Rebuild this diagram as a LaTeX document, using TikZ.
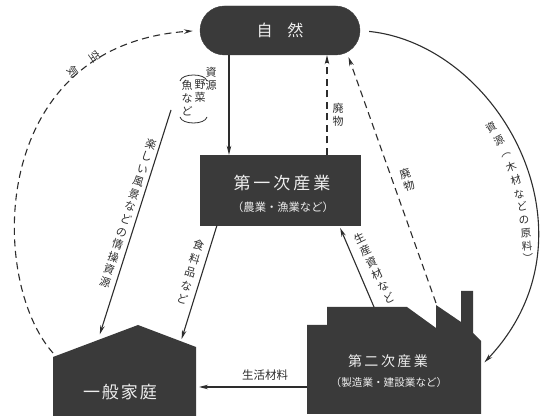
\documentclass[tikz,border=0pt]{standalone}
\usepackage{fontspec}
\setmainfont{Noto Sans CJK JP}
\usetikzlibrary{arrows.meta}
\definecolor{ink}{RGB}{45,45,45}
\definecolor{blk}{RGB}{58,58,58}
\definecolor{wt}{RGB}{238,238,238}
\begin{document}
\begin{tikzpicture}[x=1pt,y=-1pt,
  conn/.style={draw=ink, line width=1.1pt, -{Stealth[length=9pt,width=4.5pt]}},
  dconn/.style={conn, dash pattern=on 7pt off 4.5pt},
  lab/.style={text=ink, inner sep=0pt, align=center, font=\fontsize{11}{13}\selectfont},
  darkshape/.style={fill=blk, draw=blk},
  wtext/.style={text=wt, inner sep=0pt},
  paren/.style={draw=ink, line width=0.8pt}]
\fill[white] (0,0) rectangle (544,419);
\useasboundingbox (0,0) rectangle (544,419);

% nature
\node[darkshape, rounded corners=24.5pt, minimum width=160pt, minimum height=49pt, inner sep=0pt] (nature) at (280,30.5) {};
\node[wtext, font=\fontsize{16}{16}\selectfont] (nature-t) at (nature) {自\kern15pt 然};

% primary industry
\node[darkshape, minimum width=160pt, minimum height=70pt, inner sep=0pt] (primary) at (280,190) {};
\node[wtext, font=\fontsize{17}{17}\selectfont] (primary-t) at (282,183) {第\kern3pt 一\kern3pt 次\kern3pt 産\kern3pt 業};
\node[wtext, font=\fontsize{11.3}{12}\selectfont] (primary-s) at (283,207) {（農業・漁業など）};

% household (house shape)
\fill[blk] (53,416) -- (53,357) -- (138,325) -- (196,347) -- (196,416) -- cycle;
\coordinate (house-l) at (53,353);
\coordinate (house-roofl) at (98,340);
\coordinate (house-roofr) at (181,341);
\coordinate (house-e) at (196,387);
\node[wtext, font=\fontsize{17}{17}\selectfont] (home) at (120,392) {一\kern2pt 般\kern2pt 家\kern2pt 庭};

% secondary industry (factory shape)
\fill[blk] (307,414) -- (307,325) -- (327,325) -- (327,307) -- (407,307) -- (436,328) -- (436,305) -- (461,322) -- (461,291) -- (473,291) -- (473,333) -- (481,341) -- (481,414) -- cycle;
\coordinate (fac-w) at (307,387);
\coordinate (fac-t) at (374,307);
\coordinate (fac-r) at (436,303);
\coordinate (fac-e) at (481,366);
\node[wtext, font=\fontsize{14}{14}\selectfont] (second-t) at (388,361) {第\kern2.5pt 二\kern2.5pt 次\kern2.5pt 産\kern2.5pt 業};
\node[wtext, font=\fontsize{10.6}{11}\selectfont] (second-s) at (389,382) {（製造業・建設業など）};

% connectors
\draw[conn] ([xshift=-51pt]nature.south) -- ([xshift=-51pt]primary.north);
\draw[dconn] ([xshift=47pt]primary.north) -- ([xshift=47pt]nature.south);
\draw[dconn, shorten >=2pt] (fac-r) -- (nature.-20);
\draw[conn, shorten <=9pt, shorten >=5pt] (nature.east) .. controls (500,45) and (605,235) .. (fac-e);
\draw[dconn, shorten >=7pt] (house-l) .. controls (-12,280) and (-12,45) .. (nature.west);
\coordinate (scenery) at (171,110);
\draw[conn, shorten >=6pt] (scenery) -- (house-roofl);
\draw[conn, shorten >=2pt] ([xshift=-63pt]primary.south) -- (house-roofr);
\draw[conn, shorten >=3pt] (fac-t) -- ([xshift=59pt]primary.south);
\draw[conn, shorten >=3pt] (fac-w) -- (house-e);

% labels
\node[lab] (l-res) at (211,79) {資\\源};
\node[lab] (l-veg) at (200,91) {野\\菜};
\node[lab] (l-fish) at (187,98) {魚\\な\\ど};
\draw[paren] (180,81) .. controls (182,73) and (205,73) .. (207,81);
\draw[paren] (180,117) .. controls (182,125) and (205,125) .. (207,117);
\node[lab] (l-waste1) at (338,115) {廃\\物};
\node[lab, rotate=18] (l-waste2) at (407,180) {廃\\物};
\node[lab, rotate=-18.4, font=\fontsize{11}{13.2}\selectfont] (l-scen) at (128,213) {楽\\し\\い\\風\\景\\な\\ど\\の\\情\\操\\資\\源};
\node[lab, rotate=-16.7, font=\fontsize{11}{14.2}\selectfont] (l-food) at (190.5,272) {食\\料\\品\\な\\ど};
\node[lab, rotate=25.9, font=\fontsize{11}{13.4}\selectfont] (l-prod) at (374,268) {生\\産\\資\\材\\な\\ど};
\node[lab, font=\fontsize{11.5}{12}\selectfont] (l-life) at (265,375) {生活材料};
\node[lab, rotate=-55, font=\fontsize{11}{26}\selectfont] (l-air) at (84,64.5) {空\\気};
\foreach \c/\x/\y/\a [count=\i] in {資/491/127/32, 源/499/141/28, ︵/506/155/25, 木/511/167/22, 材/516/180/18, な/519/194/14, ど/522/207/11, の/524/220/9, 原/526/233/6, 料/527/246/4, ︶/528/258/2}
  \node[lab, rotate=\a, font=\fontsize{10.5}{12}\selectfont] (l-arc-\i) at (\x,\y) {\c};
\end{tikzpicture}
\end{document}
